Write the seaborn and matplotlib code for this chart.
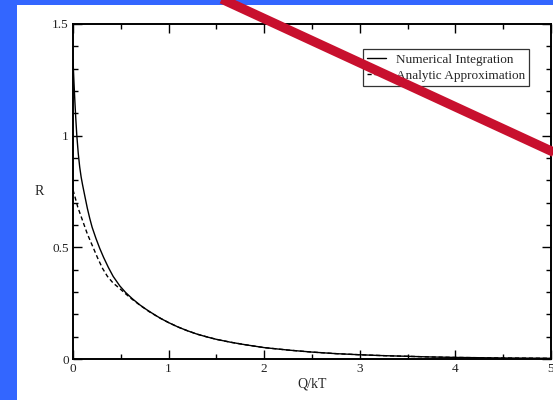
import matplotlib
matplotlib.use("Agg")
import matplotlib.pyplot as plt
from matplotlib.lines import Line2D
from matplotlib.patches import Rectangle
from matplotlib.ticker import MultipleLocator
import pandas as pd
import seaborn as sns

# Ratio R versus Q/kT: numerical integration and its analytic approximation
q_num = [0.0, 0.005, 0.01, 0.02, 0.03, 0.04, 0.055, 0.07, 0.085, 0.1, 0.125, 0.15,
         0.175, 0.2, 0.24, 0.28, 0.32, 0.37, 0.42, 0.49, 0.55, 0.62, 0.7, 0.77,
         0.85, 0.92, 1.0, 1.1, 1.2, 1.3, 1.4, 1.5, 1.65, 1.8, 2.0, 2.25, 2.5, 2.75,
         3.0, 3.25, 3.5, 3.75, 4.0, 4.5, 5.0]
r_num = [1.34, 1.29, 1.24, 1.15, 1.07, 1.00, 0.92, 0.86, 0.815, 0.78, 0.727, 0.675,
         0.63, 0.59, 0.54, 0.495, 0.455, 0.41, 0.37, 0.327, 0.298, 0.27, 0.242, 0.221,
         0.199, 0.181, 0.163, 0.143, 0.126, 0.111, 0.099, 0.088, 0.075, 0.064, 0.051,
         0.040, 0.031, 0.024, 0.019, 0.015, 0.012, 0.009, 0.007, 0.0045, 0.003]

q_app = [0.0, 0.02, 0.05, 0.1, 0.15, 0.21, 0.26, 0.31, 0.36, 0.42, 0.49, 0.55, 0.62,
         0.7, 0.8, 0.92, 1.0, 1.1, 1.2, 1.3, 1.4, 1.5, 1.65, 1.8, 2.0, 2.25, 2.5,
         2.75, 3.0, 3.25, 3.5, 3.75, 4.0, 4.5, 5.0]
r_app = [0.757, 0.727, 0.68, 0.62, 0.56, 0.50, 0.45, 0.405, 0.37, 0.34, 0.315, 0.292,
         0.267, 0.241, 0.211, 0.181, 0.163, 0.143, 0.126, 0.111, 0.099, 0.088, 0.075,
         0.064, 0.051, 0.040, 0.031, 0.024, 0.019, 0.015, 0.012, 0.009, 0.007,
         0.0045, 0.003]

series_names = ["Numerical Integration", "Analytic Approximation"]
x_ticks = [0, 1, 2, 3, 4, 5]
y_ticks = [0, 0.5, 1, 1.5]
y_tick_labels = ["0", "0.5", "1", "1.5"]

sns.set_style("ticks")
plt.rcParams["font.family"] = ["Liberation Serif", "DejaVu Serif"]

fig = plt.figure(figsize=(5.53, 4.0), dpi=100)
blue = "#3366FF"
fig.patch.set_facecolor(blue)
# white page area
fig.add_artist(Rectangle((17 / 553, 0), 1, 1 - 5 / 400, transform=fig.transFigure,
                         facecolor="white", edgecolor="none", zorder=0))

ax = fig.add_axes([73 / 553, 1 - 359 / 400, (551 - 73) / 553, (359 - 24) / 400])
ax.set_facecolor("white")

df_num = pd.DataFrame({"Q": q_num, "R": r_num})
df_app = pd.DataFrame({"Q": q_app, "R": r_app})
sns.lineplot(data=df_num, x="Q", y="R", ax=ax, color="black", linewidth=1.0,
             label=series_names[0], sort=True, estimator=None)
sns.lineplot(data=df_app, x="Q", y="R", ax=ax, color="black", linewidth=1.0,
             linestyle=(0, (3, 2)), label=series_names[1], sort=True, estimator=None)

ax.set_xlim(0, 5)
ax.set_ylim(0, 1.5)
ax.set_xticks(x_ticks)
ax.set_xticklabels([str(t) for t in x_ticks])
ax.set_yticks(y_ticks)
ax.set_yticklabels(y_tick_labels)
ax.xaxis.set_minor_locator(MultipleLocator(0.5))
ax.yaxis.set_minor_locator(MultipleLocator(0.1))
ax.tick_params(which="both", direction="in", top=True, right=True,
               width=1.0, labelsize=9.5, color="black", labelcolor="#222222")
ax.tick_params(which="major", length=6.5, pad=3)
ax.tick_params(which="minor", length=3.5)
for s in ax.spines.values():
    s.set_visible(True)
    s.set_linewidth(1.4)
    s.set_color("black")

ax.set_xlabel("Q/kT", fontsize=10, labelpad=2)
ax.set_ylabel("R", fontsize=10, rotation=0, va="center", ha="center")
ax.yaxis.set_label_coords(-0.07, 0.5)

leg = ax.legend(loc="upper right", bbox_to_anchor=(0.955, 0.925), fontsize=9.5,
                frameon=True, fancybox=False, handlelength=1.4, handletextpad=0.75,
                borderpad=0.35, labelspacing=0.25, borderaxespad=0)
leg.get_frame().set_edgecolor("black")
leg.get_frame().set_linewidth(0.9)
for h in leg.get_lines():
    h.set_linewidth(1.0)

# red diagonal stroke across the page
fig.add_artist(Line2D([200 / 553, 1.02], [1 + 11 / 400, 1 - 157 / 400],
                      transform=fig.transFigure, color="#C8102E", linewidth=6.8,
                      solid_capstyle="butt", zorder=10))

fig.savefig("out.png", dpi=100, facecolor=fig.get_facecolor())
